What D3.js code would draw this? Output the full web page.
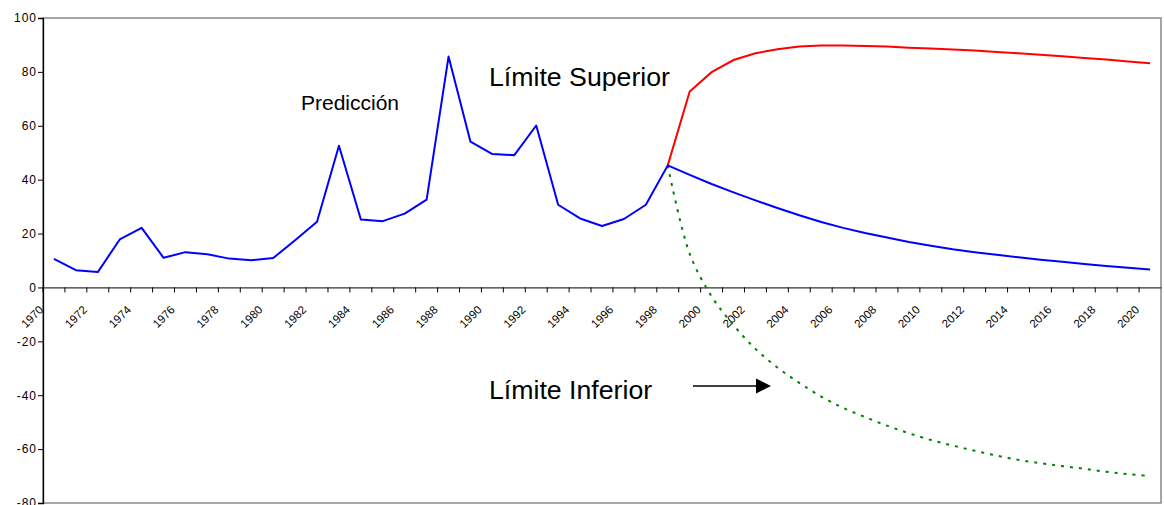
<!DOCTYPE html>
<meta charset="utf-8">
<style>
  body { margin: 0; background: #fff; }
  svg text { font-family: 'Liberation Sans', Arial, sans-serif; fill: #000; }
</style>
<script src="https://d3js.org/d3.v7.min.js"></script>
<div id="chart"></div>
<script>

// categories (one per year)
var years = [1970, 1971, 1972, 1973, 1974, 1975, 1976, 1977, 1978, 1979,
             1980, 1981, 1982, 1983, 1984, 1985, 1986, 1987, 1988, 1989,
             1990, 1991, 1992, 1993, 1994, 1995, 1996, 1997, 1998, 1999,
             2000, 2001, 2002, 2003, 2004, 2005, 2006, 2007, 2008, 2009,
             2010, 2011, 2012, 2013, 2014, 2015, 2016, 2017, 2018, 2019, 2020];

// observed series 1970-1998
var historic = [10.6, 6.4, 5.7, 17.8, 22.1, 11.0, 13.1, 12.3, 10.7, 10.1,
                10.9, 17.5, 24.4, 52.6, 25.2, 24.6, 27.4, 32.6, 85.7, 54.1,
                49.5, 49.1, 60.1, 30.7, 25.6, 22.8, 25.4, 30.7, 45.3];

// forecast 1998-2020
var forecast = [45.3, 41.8, 38.4, 35.3, 32.3, 29.5, 26.8, 24.3, 22.1, 20.2,
                18.5, 16.9, 15.5, 14.2, 13.1, 12.1, 11.2, 10.3, 9.5, 8.7,
                8.0, 7.3, 6.7];

// upper limit 1998-2020
var upper = [45.3, 72.7, 79.9, 84.4, 86.9, 88.4, 89.4, 89.8, 89.8, 89.6,
             89.4, 89.0, 88.7, 88.3, 87.9, 87.4, 86.9, 86.4, 85.8, 85.2,
             84.6, 83.9, 83.2];

// lower limit 1998-2020
var lower = [45.3, 12.5, -3.3, -14.0, -22.8, -29.7, -35.4, -40.5, -44.7, -48.1,
             -51.3, -54.1, -56.6, -58.7, -60.6, -62.4, -64.0, -65.2, -66.3, -67.3,
             -68.4, -69.3, -70.0];

var yTicks = [-80, -60, -40, -20, 0, 20, 40, 60, 80, 100];

var width = 1164, height = 505;
var plot = {left: 43, right: 1161, top: 18, bottom: 503};

var svg = d3.select("#chart").append("svg")
    .attr("width", width)
    .attr("height", height);

var x = d3.scaleBand()
    .domain(years)
    .range([plot.left, plot.right]);

var y = d3.scaleLinear()
    .domain([-80, 100])
    .range([plot.bottom, plot.top]);

var cx = function(yr) { return x(yr) + x.bandwidth() / 2; };

// plot area border
svg.append("rect")
    .attr("x", plot.left)
    .attr("y", plot.top)
    .attr("width", plot.right - plot.left)
    .attr("height", plot.bottom - plot.top)
    .attr("fill", "none")
    .attr("stroke", "#777")
    .attr("stroke-width", 1.3);

// y axis (plain hyphen minus like the original)
var yAxis = svg.append("g")
    .attr("transform", "translate(" + plot.left + ",0)")
    .call(d3.axisLeft(y).tickValues(yTicks).tickSize(5).tickPadding(1)
          .tickFormat(function(d) { return String(d); }));
yAxis.select(".domain").attr("stroke", "#000").attr("stroke-width", 1.3);
yAxis.selectAll(".tick line").attr("stroke", "#000");
yAxis.selectAll(".tick text")
    .style("font-size", "12px")
    .style("letter-spacing", "1px")
    .attr("fill", "#000");

// x axis on the zero line, ticks between categories
var xAxis = svg.append("g")
    .attr("transform", "translate(0," + y(0) + ")")
    .call(d3.axisBottom(x).tickSize(5).tickSizeOuter(0)
          .tickFormat(function(d) { return d % 2 === 0 ? d : ""; }));
xAxis.select(".domain").attr("stroke", "#333").attr("stroke-width", 1.3);
xAxis.selectAll(".tick")
    .attr("transform", function(d) { return "translate(" + x(d) + ",0)"; });
xAxis.selectAll(".tick line").attr("stroke", "#000");
xAxis.selectAll(".tick text")
    .style("font-size", "11.5px")
    .attr("fill", "#000")
    .attr("text-anchor", "end")
    .attr("y", null)
    .attr("dy", null)
    .attr("transform", "translate(1,23) rotate(-45)");

// lines
var straight = d3.line()
    .x(function(d) { return cx(d[0]); })
    .y(function(d) { return y(d[1]); });
var smooth = d3.line()
    .x(function(d) { return cx(d[0]); })
    .y(function(d) { return y(d[1]); })
    .curve(d3.curveCatmullRom.alpha(0.5));

var futureYears = years.slice(28);
function pairs(yrs, vals) { return vals.map(function(v, i) { return [yrs[i], v]; }); }

svg.append("path")
    .datum(pairs(futureYears, lower))
    .attr("d", smooth)
    .attr("fill", "none")
    .attr("stroke", "#008000")
    .attr("stroke-width", 2)
    .attr("stroke-dasharray", "3,6");

svg.append("path")
    .datum(pairs(futureYears, upper))
    .attr("d", straight)
    .attr("fill", "none")
    .attr("stroke", "#ff0000")
    .attr("stroke-width", 2);

svg.append("path")
    .datum(pairs(years, historic).concat(pairs(futureYears, forecast).slice(1)))
    .attr("d", straight)
    .attr("fill", "none")
    .attr("stroke", "#0000ff")
    .attr("stroke-width", 2)
    .attr("stroke-linejoin", "round");

// annotations
svg.append("text")
    .attr("x", 301).attr("y", 110)
    .style("font-size", "21px")
    .text("Predicción");

svg.append("text")
    .attr("x", 489).attr("y", 86)
    .style("font-size", "26.7px")
    .text("Límite Superior");

svg.append("text")
    .attr("x", 489).attr("y", 399)
    .style("font-size", "26.7px")
    .text("Límite Inferior");

svg.append("line")
    .attr("x1", 693).attr("y1", 386)
    .attr("x2", 758).attr("y2", 386)
    .attr("stroke", "#000")
    .attr("stroke-width", 1.5);
svg.append("path")
    .attr("d", "M756,378.5L771,386L756,393.5Z")
    .attr("fill", "#000");

</script>
